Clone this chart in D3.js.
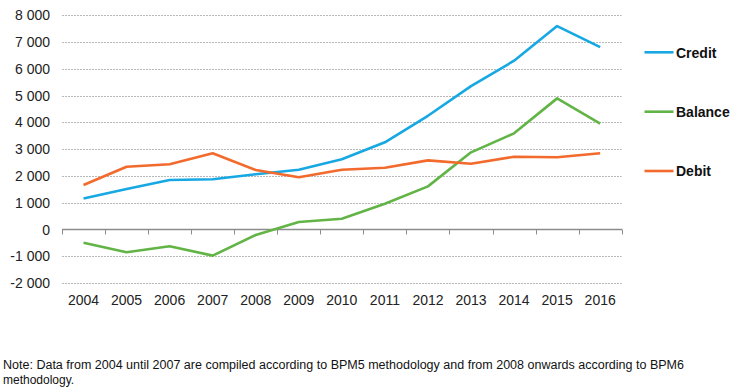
<!DOCTYPE html>
<html><head><meta charset="utf-8">
<script src="https://cdn.jsdelivr.net/npm/d3@7"></script>
<style>
body{margin:0;background:#fff;}
svg{display:block;font-family:"Liberation Sans",Arial,sans-serif;}
</style></head>
<body><svg id="c" width="750" height="392"></svg>
<script>
const years = ["2004","2005","2006","2007","2008","2009","2010","2011","2012","2013","2014","2015","2016"];
const credit = [1160,1510,1850,1875,2060,2230,2620,3255,4245,5350,6300,7595,6810];
const debit = [1660,2345,2435,2845,2220,1950,2230,2305,2580,2455,2715,2695,2845];
const balance = [-495,-850,-625,-975,-205,280,400,960,1610,2880,3590,4895,3950];
const yTicks = [-2000,-1000,0,1000,2000,3000,4000,5000,6000,7000,8000];
const seriesNames = ["Credit","Balance","Debit"];
const seriesColors = ["#17A8E3","#62B446","#F26A2C"];

const svg = d3.select("#c");
const mLeft = 62, mRight = 621.7, mTop = 15.2, zeroY = 229.5;
const y = d3.scaleLinear().domain([0,8000]).range([zeroY, mTop]);
const x = d3.scaleBand().domain(years).range([mLeft,mRight]);
const fmt = v => d3.format(",")(v).replace(/,/g," ").replace("−","-");

// gridlines
svg.append("g").selectAll("line").data(yTicks.filter(v=>v!==0)).join("line")
  .attr("x1",mLeft).attr("x2",mRight)
  .attr("y1",d=>Math.round(y(d))+0.5).attr("y2",d=>Math.round(y(d))+0.5)
  .attr("stroke","#b8b8b8").attr("stroke-width",1).attr("stroke-dasharray","2,1");

// y labels
svg.append("g").selectAll("text").data(yTicks).join("text")
  .attr("x",50).attr("y",d=>y(d)+5).attr("text-anchor","end")
  .attr("font-size",14).attr("fill","#222").text(d=>fmt(d));

// zero axis
svg.append("line").attr("x1",mLeft).attr("x2",mRight+0.5)
  .attr("y1",zeroY).attr("y2",zeroY).attr("stroke","#8c8c8c").attr("stroke-width",1.3);
const bounds = years.map(d=>x(d)).concat([mRight]);
svg.append("g").selectAll("line").data(bounds).join("line")
  .attr("x1",d=>Math.round(d)+0.5).attr("x2",d=>Math.round(d)+0.5)
  .attr("y1",zeroY).attr("y2",zeroY+5).attr("stroke","#8c8c8c").attr("stroke-width",1);

// x labels
svg.append("g").selectAll("text").data(years).join("text")
  .attr("x",d=>x(d)+x.bandwidth()/2).attr("y",305).attr("text-anchor","middle")
  .attr("font-size",14).attr("fill","#222").text(d=>d);

// lines
const data = [credit,balance,debit];
const line = d3.line().x((d,i)=>x(years[i])+x.bandwidth()/2).y(d=>y(d));
data.forEach((s,k)=>{
  svg.append("path").attr("d",line(s)).attr("fill","none")
    .attr("stroke",seriesColors[k]).attr("stroke-width",2.6)
    .attr("stroke-linejoin","round");
});

// legend
const legY = [52.3,111.7,171];
seriesNames.forEach((n,k)=>{
  svg.append("line").attr("x1",644.5).attr("x2",673.5).attr("y1",legY[k]).attr("y2",legY[k])
    .attr("stroke",seriesColors[k]).attr("stroke-width",2.6);
  svg.append("text").attr("x",676).attr("y",legY[k]+5.2).attr("font-size",14)
    .attr("font-weight","bold").attr("fill","#111").text(n);
});

// note
const note1 = "Note: Data from 2004 until 2007 are compiled according to BPM5 methodology and from 2008 onwards according to BPM6";
const note2 = "methodology.";
svg.append("text").attr("x",3).attr("y",369).attr("font-size",12).attr("fill","#111")
  .attr("textLength",681).attr("lengthAdjust","spacingAndGlyphs").text(note1);
svg.append("text").attr("x",3).attr("y",384).attr("font-size",12).attr("fill","#111")
  .text(note2);
</script></body></html>
